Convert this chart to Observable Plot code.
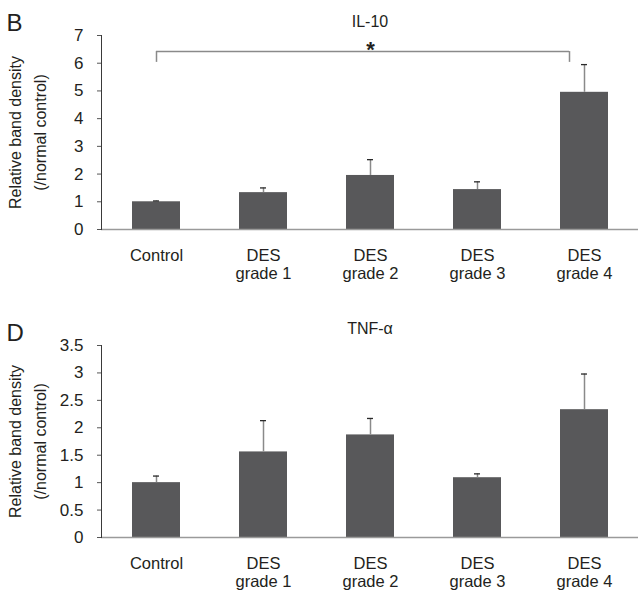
<!DOCTYPE html>
<html>
<head>
<meta charset="utf-8">
<script src="https://cdn.jsdelivr.net/npm/d3@7"></script>
<script src="https://cdn.jsdelivr.net/npm/@observablehq/plot@0.6"></script>
<style>
  html, body { margin: 0; padding: 0; background: #fff; }
  #chart svg { display: block; }
</style>
</head>
<body>
<div id="chart"></div>
<script>
// ---- data ----
const categories = ["Control", "DES grade 1", "DES grade 2", "DES grade 3", "DES grade 4"];
const tickLabels = ["Control", "DES\ngrade 1", "DES\ngrade 2", "DES\ngrade 3", "DES\ngrade 4"];

const il10Mean = [1.00, 1.33, 1.95, 1.44, 4.95];
const il10Err  = [0.03, 0.17, 0.57, 0.28, 1.00];

const tnfMean = [1.00, 1.56, 1.87, 1.09, 2.33];
const tnfErr  = [0.12, 0.57, 0.30, 0.07, 0.65];

const il10Ticks = [0, 1, 2, 3, 4, 5, 6, 7];
const tnfTicks = [0, 0.5, 1, 1.5, 2, 2.5, 3, 3.5];

const yLabel = "Relative band density\n(/normal control)";
// significance bracket (IL-10): Control vs DES grade 4
const bracket = {from: "Control", to: "DES grade 4", star: "DES grade 2", top: 6.42, bottom: 6.03, text: "*"};

// ---- helpers ----
const FONT = "Liberation Sans, Arial, Helvetica, sans-serif";
const labelOf = new Map(categories.map((c, i) => [c, tickLabels[i]]));

function rows(mean, err) {
  return categories.map((c, i) => ({cat: c, mean: mean[i], top: mean[i] + err[i]}));
}

function panel({letter, title, mean, err, ticks, yMax, height, marginTop, marginBottom, titleDy, extra = []}) {
  const data = rows(mean, err);
  return Plot.plot({
    width: 640,
    height,
    marginTop,
    marginBottom,
    marginLeft: 101,
    marginRight: 2,
    style: {fontFamily: FONT, fontSize: "16px", color: "#231f20", background: "#fff"},
    x: {domain: categories, paddingInner: 0.5524, paddingOuter: 0.284},
    y: {domain: [0, yMax]},
    marks: [
      Plot.barY(data, {x: "cat", y: "mean", fill: "#58585a"}),
      Plot.ruleX(data, {x: "cat", y1: "mean", y2: "top", stroke: "#8a8a8a", strokeWidth: 1.5}),
      Plot.tickY(data, {x: "cat", y: "top", stroke: "#2a2a2a", strokeWidth: 1.3, inset: 21}),
      Plot.ruleY([0], {stroke: "#9a9a9a", strokeWidth: 1.5}),
      Plot.frame({anchor: "left", stroke: "#3a3a3a", strokeWidth: 1}),
      Plot.axisY({ticks, tickSize: 4, tickPadding: 14, tickFormat: d => String(d), label: null, stroke: "#555", fontSize: 17}),
      Plot.axisX({tickSize: 0, tickPadding: 19, tickFormat: d => labelOf.get(d), label: null, fontSize: 16.5, lineHeight: 1.08}),
      Plot.text([yLabel], {frameAnchor: "left", rotate: -90, dx: -76, fontSize: 16, lineHeight: 1.56, textAnchor: "middle", fill: "#231f20"}),
      Plot.text([title], {frameAnchor: "top", lineAnchor: "middle", dy: titleDy, fontSize: 16, fill: "#231f20"}),
      Plot.text([letter], {frameAnchor: "top-left", lineAnchor: "middle", textAnchor: "start", dx: -95, dy: -12, fontSize: 24, fill: "#231f20"}),
      ...extra
    ]
  });
}

const bracketMarks = [
  Plot.ruleY([bracket.top], {x1: () => bracket.from, x2: () => bracket.to, insetLeft: 24, insetRight: 39, stroke: "#8a8a8a", strokeWidth: 1.5}),
  Plot.ruleX([bracket.from], {x: d => d, y1: bracket.bottom, y2: bracket.top, stroke: "#8a8a8a", strokeWidth: 1.5}),
  Plot.ruleX([bracket.to], {x: d => d, y1: bracket.bottom, y2: bracket.top, dx: -15, stroke: "#8a8a8a", strokeWidth: 1.5}),
  Plot.text([bracket.text], {x: () => bracket.star, y: bracket.top, dy: -2, fontSize: 22, fontWeight: "bold", fill: "#231f20"})
];

const panelTop = panel({
  letter: "B", title: "IL-10", mean: il10Mean, err: il10Err, ticks: il10Ticks, yMax: 7,
  height: 300, marginTop: 35, marginBottom: 71, titleDy: -14, extra: bracketMarks
});
const panelBottom = panel({
  letter: "D", title: "TNF-α", mean: tnfMean, err: tnfErr, ticks: tnfTicks, yMax: 3.5,
  height: 292, marginTop: 45, marginBottom: 55, titleDy: -17
});

document.getElementById("chart").append(panelTop, panelBottom);
</script>
</body>
</html>
